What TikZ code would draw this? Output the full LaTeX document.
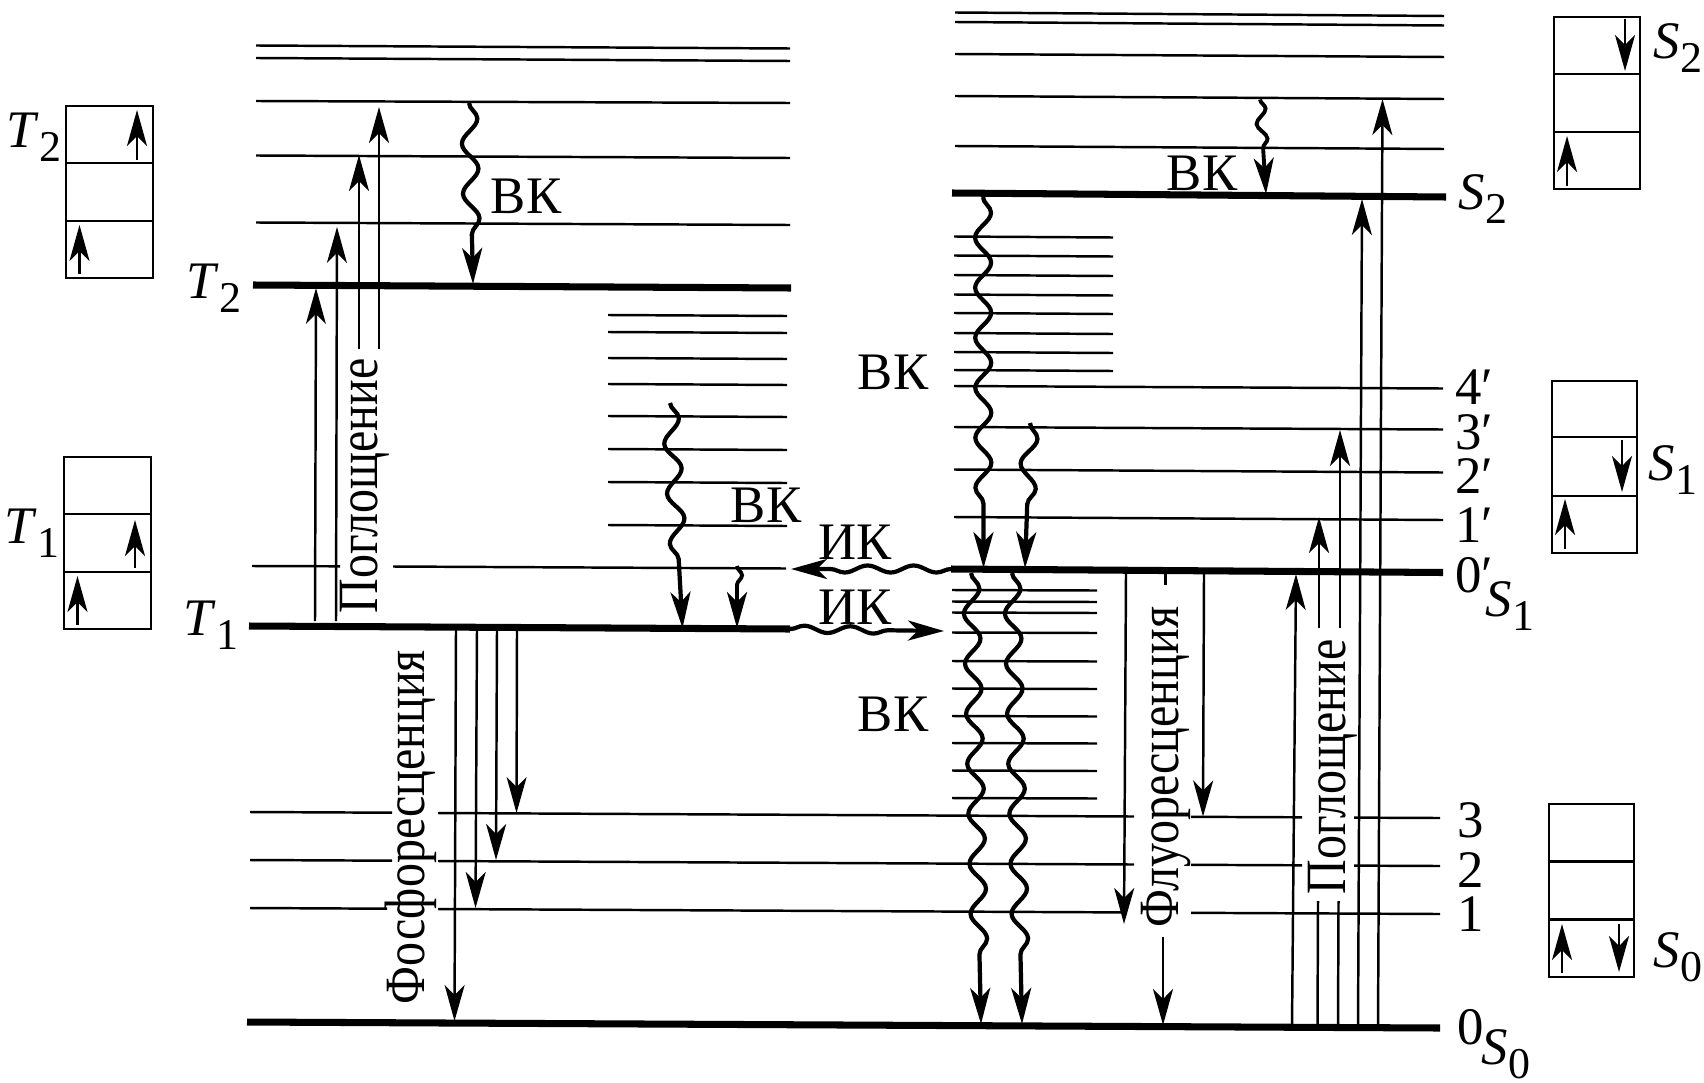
\documentclass[tikz,border=0pt]{standalone}
\usepackage{fontspec}
\setmainfont{Liberation Serif}
\usetikzlibrary{arrows.meta,decorations.pathmorphing}
\newcommand{\statename}[2]{\textit{#1}\raisebox{-0.6ex}{\fontsize{12.5}{13}\selectfont #2}}
\newcommand{\sidetext}[1]{\scalebox{0.91}[1.08]{#1}}

\tikzset{
	sublevel/.style={line width=0.7pt},
	mainlevel/.style={line width=2pt},
	statebox/.style={line width=0.8pt},
	bigtip/.tip={Stealth[length=0.36cm,width=0.2cm,inset=0.1cm]},
	transition/.style={line width=0.7pt,-{bigtip}},
	plainline/.style={line width=0.7pt},
	vibwave/.style={line width=1.2pt,-{bigtip},decorate,
		decoration={snake,amplitude=0.08cm,segment length=0.5cm,post length=0.45cm}},
	shortwave/.style={line width=1.1pt,-{bigtip},decorate,
		decoration={snake,amplitude=0.05cm,segment length=0.3cm,post length=0.35cm}},
	crosswave/.style={line width=1.2pt,-{bigtip},decorate,
		decoration={snake,amplitude=0.035cm,segment length=0.46cm,post length=0.35cm}},
	tag/.style={inner sep=0pt,font=\fontsize{15}{17}\selectfont},
	sidetag/.style={tag,rotate=90}
}

\begin{document}
\begin{tikzpicture}
	[x=0.01cm, y=-0.01cm]
	\useasboundingbox (0,0) rectangle (1704,1082);

	% triplet levels
	\foreach \ya/\yb in {45.5/48.5, 58/61, 101/103, 155.5/158, 222.5/225}
		\draw[sublevel] (256,\ya) -- (790,\yb);
	\foreach \ya/\yb in {315/316, 332/333, 358/359, 384/385, 416/417, 449/450, 482/483, 525/526}
		\draw[sublevel] (608,\ya) -- (787,\yb);
	\draw[mainlevel] (253,285) -- (791,288);
	\draw[sublevel] (252,566) -- (340,566.3) (393,566.5) -- (786,568.5);
	\draw[mainlevel] (249,626) -- (790,629);

	% singlet levels
	\foreach \ya/\yb in {12.5/16, 22/25.5, 54/57, 96/99, 146/149}
		\draw[sublevel] (955,\ya) -- (1444,\yb);
	\draw[mainlevel] (952,193) -- (1446,197);
	\foreach \y in {236.5, 255.5, 275, 294.5, 313, 333, 352, 370}
		\draw[sublevel] (954,\y) -- (1113,\y+1);
	\foreach \ya/\yb in {386/388.5, 427/429.5, 469.5/472.5, 517/520}
		\draw[sublevel] (954,\ya) -- (1443,\yb);
	\draw[mainlevel] (951,569) -- (1443,572.5);
	\foreach \y in {590, 601.5, 612.5, 632.5, 661, 688.5, 716, 743, 770.5, 798}
		\draw[sublevel] (952,\y) -- (1097,\y+0.5);

	% ground state levels with gaps for the labels
	\foreach \y in {812, 860}
		\draw[sublevel] (250,\y) -- (392,\y+0.7) (438,\y+1) -- (1134,\y+4.5)
			(1191,\y+4.8) -- (1302,\y+5.3) (1354,\y+5.6) -- (1440,\y+6);
	\draw[sublevel] (250,908) -- (387,908.7) (438,909) -- (1122,912.4) (1191,912.8) -- (1440,914);
	\draw[mainlevel] (247,1022) -- (1440,1028);

	% state boxes
	\draw[statebox] (66,106) rectangle (153,278) (66,163) -- (153,163) (66,221) -- (153,221);
	\draw[statebox] (64,457) rectangle (151,629) (64,514) -- (151,514) (64,572) -- (151,572);
	\draw[statebox] (1554,17) rectangle (1640,189) (1554,74) -- (1640,74) (1554,132) -- (1640,132);
	\draw[statebox] (1552,381) rectangle (1637,553) (1552,437) -- (1637,437) (1552,496) -- (1637,496);
	\draw[statebox] (1549,804) rectangle (1634,977) (1549,861.5) -- (1634,861.5) (1549,919.5) -- (1634,919.5);

	% spins
	\draw[transition] (137,160) -- (137,110);
	\draw[transition] (79.5,274) -- (79.5,225);
	\draw[transition] (135,568) -- (135,520);
	\draw[transition] (77.5,625) -- (77.5,576);
	\draw[transition] (1625,19) -- (1625,71);
	\draw[transition] (1567,186) -- (1567,136);
	\draw[transition] (1622,440) -- (1622,492);
	\draw[transition] (1565,549) -- (1565,499);
	\draw[transition] (1562,973) -- (1562,924);
	\draw[transition] (1619,924) -- (1619,972);

	% absorption on the triplet side
	\draw[transition] (315,621) -- (316,288);
	\draw[transition] (336,621) -- (337,227);
	\draw[transition] (359,349) -- (359,155);
	\draw[transition] (379,349) -- (379,107);

	% phosphorescence
	\draw[transition] (456,628) -- (454.5,1021);
	\draw[transition] (477,628) -- (475.5,908);
	\draw[transition] (497,628) -- (496,860);
	\draw[transition] (517,628) -- (516.5,813);

	% fluorescence
	\draw[transition] (1126,572) -- (1124,924);
	\draw[plainline] (1165.5,572) -- (1165.5,585);
	\draw[transition] (1204,572) -- (1203,816.5);
	\draw[transition] (1163,937) -- (1163,1025);

	% absorption on the singlet side
	\draw[transition] (1292,1026) -- (1296,574);
	\draw[plainline] (1317.5,1026) -- (1318,901);
	\draw[transition] (1319,628) -- (1319,517);
	\draw[plainline] (1338,1026) -- (1338.5,901);
	\draw[transition] (1340,628) -- (1340,430);
	\draw[transition] (1358,1026) -- (1362,199);
	\draw[transition] (1378,1026) -- (1382.5,99);

	% vibrational relaxation
	\draw[vibwave] (469,103) -- (473,284);
	\draw[vibwave] (670,403) -- (682.5,628);
	\draw[shortwave] (737,566) -- (737,628);
	\draw[shortwave] (1260,99.5) -- (1266,194);
	\draw[vibwave] (983,197) -- (983.5,568);
	\draw[vibwave] (1030,423) -- (1025,568);
	\draw[vibwave] (971,573) -- (981,1024);
	\draw[vibwave] (1012,573) -- (1022,1024);

	% internal conversion
	\draw[crosswave] (951,569) -- (791,569);
	\draw[crosswave] (790,629) -- (944,631);

	% labels
	\node[tag] (vkTa) at (526,196) {ВК};
	\node[tag] (vkTb) at (766,505) {ВК};
	\node[tag] (vkSa) at (1202,173) {ВК};
	\node[tag] (vkSb) at (893,372) {ВК};
	\node[tag] (vkSc) at (893,714) {ВК};
	\node[tag] (ikA) at (855,542) {ИК};
	\node[tag] (ikB) at (855,607) {ИК};
	\node[sidetag] (absT) at (365,486) {\sidetext{Поглощение}};
	\node[sidetag] (absS) at (1333,767) {\sidetext{Поглощение}};
	\node[sidetag] (phos) at (411,827) {\sidetext{Фосфоресценция}};
	\node[sidetag] (fluo) at (1166,767) {\sidetext{Флуоресценция}};

	\node[tag] (boxTb) at (34,137) {\statename{T}{2}};
	\node[tag] (boxTa) at (32,533) {\statename{T}{1}};
	\node[tag] (lvlTb) at (214,288) {\statename{T}{2}};
	\node[tag] (lvlTa) at (211,625) {\statename{T}{1}};
	\node[tag] (boxSb) at (1678,48) {\statename{S}{2}};
	\node[tag] (boxSa) at (1673,470) {\statename{S}{1}};
	\node[tag] (boxSo) at (1678,957) {\statename{S}{0}};
	\node[tag] (lvlSb) at (1483,199) {\statename{S}{2}};
	\node[tag] (lvlSa) at (1510,606) {\statename{S}{1}};
	\node[tag] (lvlSo) at (1506,1054) {\statename{S}{0}};

	\node[tag] (nFour) at (1474,387) {4′};
	\node[tag] (nThree) at (1474,432) {3′};
	\node[tag] (nTwo) at (1474,476) {2′};
	\node[tag] (nOne) at (1474,525) {1′};
	\node[tag] (nZero) at (1474,575) {0′};
	\node[tag] (mThree) at (1471,820) {3};
	\node[tag] (mTwo) at (1471,870) {2};
	\node[tag] (mOne) at (1471,914) {1};
	\node[tag] (mZero) at (1471,1027) {0};
\end{tikzpicture}
\end{document}
